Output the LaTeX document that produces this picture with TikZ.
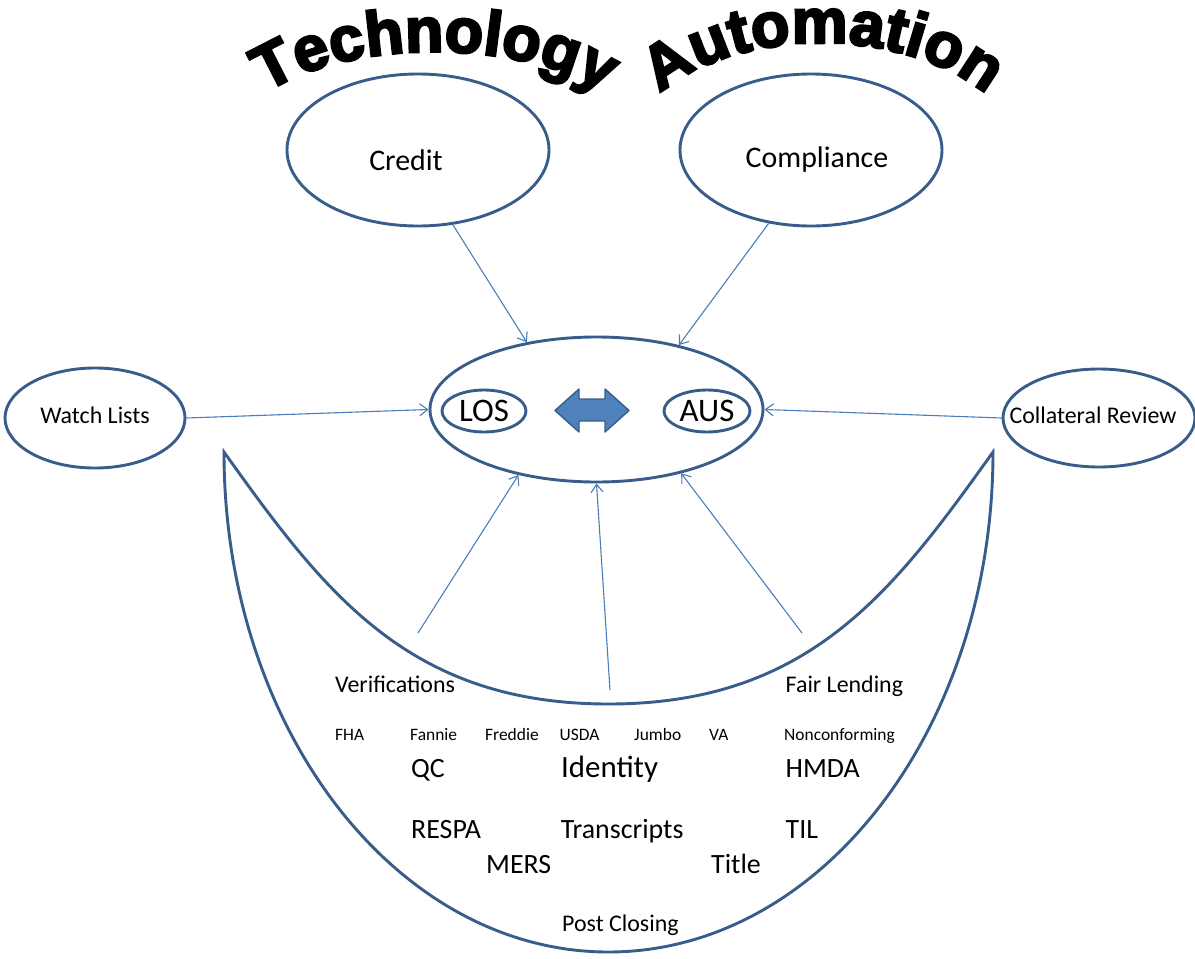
\documentclass[tikz,border=0pt]{standalone}
\usepackage{fontspec}
\setmainfont{Carlito}
\newfontfamily\titlefont{Liberation Sans Bold}[FakeBold=4]
\usepackage{tikz}
\usetikzlibrary{arrows.meta,shapes.geometric,decorations.text}
\definecolor{ringBlue}{HTML}{385D8A}
\definecolor{lineBlue}{HTML}{4A7EBB}
\definecolor{fillBlue}{HTML}{4F81BD}
\newcommand{\pxsize}[1]{\fontsize{#1}{#1}\selectfont}

\begin{document}
\begin{tikzpicture}[x=1bp, y=-1bp,
  ring/.style={draw=ringBlue, line width=2.9bp, ellipse, inner sep=0pt},
  feed/.style={draw=lineBlue, line width=1.1bp, -{Straight Barb[length=8bp,width=12bp]}},
  tag/.style={anchor=base west, inner sep=0pt},
  arch/.style={decorate, decoration={text along path, text align=center, text={#1}}}]
\useasboundingbox (0,0) rectangle (1195,959);

% arched heading
\path[arch={|\titlefont\pxsize{63}|Technology}] (250,105) .. controls (330,34) and (540,34) .. (620,105);
\path[arch={|\titlefont\pxsize{63}|Automation}] (645,109) .. controls (720,21) and (920,21) .. (1002,109);

% outer ellipses
\node[ring, minimum width=262bp, minimum height=152bp] (credit) at (418,150) {};
\node[font=\pxsize{30}] (creditlbl) at (406,160) {Credit};
\node[ring, minimum width=262bp, minimum height=152bp] (compliance) at (811,150) {};
\node[font=\pxsize{30}] (compliancelbl) at (817,160) {Compliance};
\node[ring, minimum width=180bp, minimum height=100bp] (watch) at (95,418) {};
\node[font=\pxsize{24}] (watchlbl) at (95,415) {Watch Lists};
\node[ring, minimum width=192bp, minimum height=98bp] (collateral) at (1099,418) {};
\node[font=\pxsize{24}] (collaterallbl) at (1093,415) {Collateral Review};

% hub with LOS <-> AUS
\node[ring, minimum width=333bp, minimum height=145bp] (hub) at (596.5,409.5) {};
\node[ring, minimum width=84bp, minimum height=42bp, font=\pxsize{33}] (los) at (484,411) {LOS};
\node[ring, minimum width=86bp, minimum height=42bp, font=\pxsize{33}] (aus) at (707,411) {AUS};
\filldraw[fill=fillBlue, draw=ringBlue, line width=1.4bp, line join=round]
  (555,410.5) -- (579,389) -- (579,399) -- (605,399) -- (605,389) -- (629,410.5)
  -- (605,432) -- (605,421) -- (579,421) -- (579,432) -- cycle;

% bowl
\draw[draw=ringBlue, line width=2.9bp]
  (224,452) .. controls (224,728) and (396,952) .. (608.5,952)
  .. controls (821,952) and (993,728) .. (993,452)
  .. controls (893,592) and (809,704) .. (608.5,704)
  .. controls (408,704) and (324,592) .. cycle;

% labels in the bowl
\node[tag, font=\pxsize{24}] (verif) at (335,692) {Verifications};
\node[tag, font=\pxsize{24}] (fair) at (785.5,692) {Fair Lending};
\node[tag, font=\pxsize{17.5}] (fha) at (335,740) {FHA};
\node[tag, font=\pxsize{17.5}] (fannie) at (410,740) {Fannie};
\node[tag, font=\pxsize{17.5}] (freddie) at (485,740) {Freddie};
\node[tag, font=\pxsize{17.5}] (usda) at (559.5,740) {USDA};
\node[tag, font=\pxsize{17.5}] (jumbo) at (634,740) {Jumbo};
\node[tag, font=\pxsize{17.5}] (va) at (709,740) {VA};
\node[tag, font=\pxsize{17.5}] (noncon) at (784,740) {Nonconforming};
\node[tag, font=\pxsize{28}] (qc) at (411,777) {QC};
\node[tag, font=\pxsize{31}] (identity) at (561,777) {Identity};
\node[tag, font=\pxsize{28}] (hmda) at (785.5,777) {HMDA};
\node[tag, font=\pxsize{28}] (respa) at (411,838) {RESPA};
\node[tag, font=\pxsize{28}] (transcripts) at (560.6,838) {Transcripts};
\node[tag, font=\pxsize{28}] (til) at (785.5,838) {TIL};
\node[tag, font=\pxsize{28}] (mers) at (486,873) {MERS};
\node[tag, font=\pxsize{28}] (titlelbl) at (711,873) {Title};
\node[tag, font=\pxsize{24}] (postclosing) at (562,931) {Post Closing};

% feeds into the hub
\coordinate (veriftail) at (418,633);
\coordinate (idtail) at (610,690);
\coordinate (fairtail) at (802,633);
\draw[feed] (credit.-65) -- (hub.136);
\draw[feed] (compliance.-120) -- (hub.38);
\draw[feed] (watch.east) -- (hub.west);
\draw[feed] (collateral.west) -- (hub.east);
\draw[feed] (veriftail) -- (hub.-140);
\draw[feed] (idtail) -- (hub.south);
\draw[feed] (fairtail) -- (hub.-37);
\end{tikzpicture}
\end{document}
